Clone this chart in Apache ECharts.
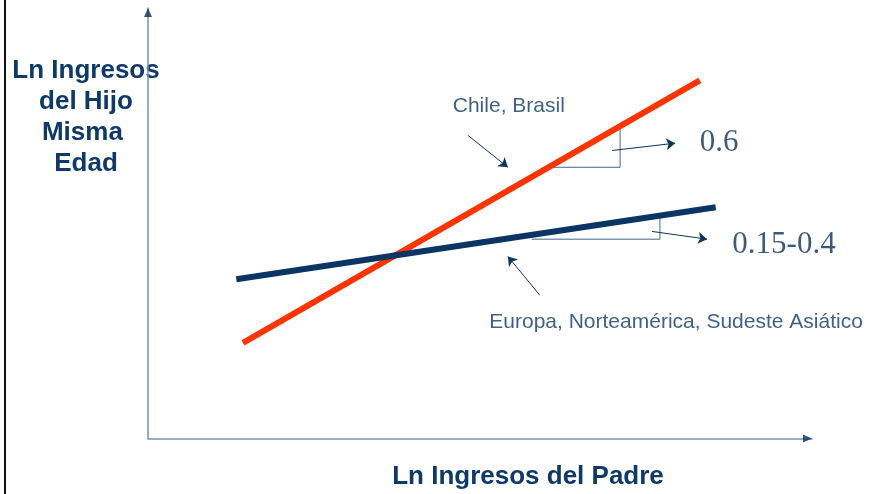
<!DOCTYPE html>
<html>
<head>
<meta charset="utf-8">
<script src="https://cdn.jsdelivr.net/npm/echarts@6/dist/echarts.min.js"></script>
<style>
html,body{margin:0;padding:0;background:#fff;}
#chart{width:870px;height:494px;}
</style>
</head>
<body>
<div id="chart"></div>
<script>
// ---- data (conceptual units on both axes, 0..10) ----
const axisMin = 0;
const axisMax = 10;

// Chile, Brasil (steep line, slope ~0.6)
const chileX = [1.43, 8.31];
const chileY = [2.22, 8.32];

// Europa, Norteamérica, Sudeste Asiático (flat line, slope 0.15-0.4)
const europaX = [1.33, 8.55];
const europaY = [3.70, 5.37];

// slope triangles
const chileTriX = [6.10, 7.11, 7.11];
const chileTriY = [6.30, 6.30, 7.25];
const europaTriX = [5.78, 7.71, 7.71];
const europaTriY = [4.63, 4.63, 5.18];

// annotation arrows [from, to]
const arrowFromX = [6.99, 7.59, 4.82, 5.90];
const arrowFromY = [6.69, 4.81, 7.04, 3.33];
const arrowToX   = [7.94, 8.42, 5.42, 5.42];
const arrowToY   = [6.86, 4.63, 6.30, 4.23];

// annotation texts and anchors
const sansNotes = ['Chile, Brasil', 'Europa, Norteamérica, Sudeste Asiático'];
const sansNoteX = [4.59, 5.14];
const sansNoteY = [7.72, 2.70];
const slopeNotes = ['0.6', '0.15-0.4'];
const slopeNoteX = [8.31, 8.80];
const slopeNoteY = [6.86, 4.49];

const yTitle = ['Ln Ingresos', 'del Hijo', 'Misma ', 'Edad'];
const xTitle = 'Ln Ingresos del Padre';

// ---- build ----
const zip = (xs, ys) => xs.map((x, i) => [x, ys[i]]);
const navy = '#0b3563';
const textNavy = '#0d3a6b';
const sans = "'Liberation Sans', Arial, sans-serif";

const chart = echarts.init(document.getElementById('chart'), null, {renderer: 'canvas'});
const axisCommon = {
  type: 'value', min: axisMin, max: axisMax,
  axisLine: {show: true, lineStyle: {color: '#7592b5', width: 1.5}},
  axisTick: {show: false}, axisLabel: {show: false}, splitLine: {show: false}
};

chart.setOption({
  animation: false,
  backgroundColor: '#ffffff',
  grid: {left: 148, right: 58, top: 8, bottom: 55.5},
  xAxis: axisCommon,
  yAxis: axisCommon,
  graphic: [
    {type: 'rect', shape: {x: 4, y: 0, width: 2, height: 494}, style: {fill: '#111111'}},
    {type: 'text', x: 86, y: 55, style: {
      text: yTitle.join('\n'), textAlign: 'center', fill: textNavy,
      font: "bold 26px 'Liberation Sans', Arial, sans-serif", lineHeight: 31}},
    {type: 'text', x: 528, y: 477, style: {
      text: xTitle, textAlign: 'center', textVerticalAlign: 'middle', fill: textNavy,
      font: "bold 26px 'Liberation Sans', Arial, sans-serif"}}
  ],
  series: [
    {type: 'line', data: zip(chileX, chileY), symbol: 'none',
     lineStyle: {color: '#ff3300', width: 6, cap: 'butt'}, z: 3},
    {type: 'line', data: zip(europaX, europaY), symbol: 'none',
     lineStyle: {color: navy, width: 6, cap: 'butt'}, z: 4},
    {type: 'line', data: zip(chileTriX, chileTriY), symbol: 'none',
     lineStyle: {color: '#44668f', width: 1}, z: 2},
    {type: 'line', data: zip(europaTriX, europaTriY), symbol: 'none',
     lineStyle: {color: '#44668f', width: 1}, z: 2},
    {type: 'lines', coordinateSystem: 'cartesian2d', z: 5,
     symbol: ['none', 'arrow'], symbolSize: 9,
     lineStyle: {color: navy, width: 1, opacity: 1},
     data: arrowFromX.map((x, i) => ({coords: [[x, arrowFromY[i]], [arrowToX[i], arrowToY[i]]]}))},
    {type: 'scatter', symbolSize: 0, z: 6,
     data: zip(sansNoteX, sansNoteY).map((p, i) => ({value: p, name: sansNotes[i]})),
     label: {show: true, position: 'right', distance: 0, formatter: p => p.name,
       color: textNavy, fontFamily: sans, fontSize: 21}},
    {type: 'scatter', symbolSize: 0, z: 6,
     data: zip(slopeNoteX, slopeNoteY).map((p, i) => ({value: p, name: slopeNotes[i]})),
     label: {show: true, position: 'right', distance: 0, formatter: p => p.name,
       color: '#0b2f5e', fontFamily: "'Liberation Serif', 'Times New Roman', serif", fontSize: 31}},
    // axis arrowheads
    {type: 'scatter', z: 7, clip: false, silent: true,
     itemStyle: {color: '#0b2f5e'},
     data: [
       {value: [axisMax, axisMin], symbol: 'triangle', symbolSize: [8, 9], symbolRotate: -90, symbolOffset: [-4.5, 0]},
       {value: [axisMin, axisMax], symbol: 'triangle', symbolSize: [8, 9], symbolRotate: 0, symbolOffset: [0, 4.5]}
     ]}
  ]
});
</script>
</body>
</html>
